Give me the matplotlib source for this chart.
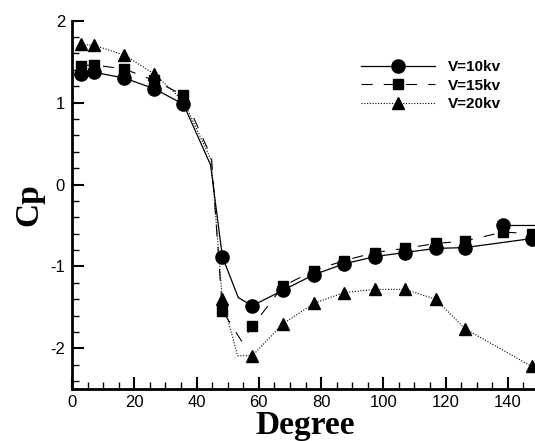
import numpy as np
import matplotlib
matplotlib.use('Agg')
import matplotlib.pyplot as plt
from matplotlib.ticker import MultipleLocator

plt.rcParams['axes.unicode_minus'] = False
plt.rcParams['font.family'] = 'Liberation Sans'

nan = np.nan

# V=10kv (line vertices; separate short segment near the end)
deg10 = [2.9, 7.1, 16.8, 26.4, 35.8, 44.5, 48.3, 53.4, 57.9, 67.8, 77.7, 87.3,
         97.3, 106.9, 116.8, 126.2, 147.6, nan, 138.5, 155.0]
cp10 = [1.35, 1.37, 1.30, 1.17, 0.98, 0.24, -0.88, -1.38, -1.48, -1.29, -1.10, -0.97,
        -0.88, -0.83, -0.78, -0.77, -0.66, nan, -0.50, -0.50]
mark10 = [0, 1, 2, 3, 4, 6, 8, 9, 10, 11, 12, 13, 14, 15, 16, 18]

# V=15kv
deg15 = [2.9, 7.1, 16.8, 26.4, 35.8, 44.8, 48.3, 54.6, 57.9, 67.8, 77.7, 87.3,
         97.3, 106.9, 116.8, 126.2, 138.5, 147.6, 155.0]
cp15 = [1.45, 1.46, 1.41, 1.27, 1.09, 0.33, -1.54, -1.92, -1.73, -1.24, -1.05, -0.93,
        -0.83, -0.78, -0.72, -0.69, -0.58, -0.60, -0.60]
mark15 = [0, 1, 2, 3, 4, 6, 8, 9, 10, 11, 12, 13, 14, 15, 16, 17]

# V=20kv
deg20 = [2.9, 7.1, 16.8, 26.4, 35.8, 44.7, 48.3, 53.2, 57.9, 67.8, 77.7, 87.3,
         97.3, 106.9, 116.8, 126.2, 147.6]
cp20 = [1.71, 1.70, 1.58, 1.35, 1.02, 0.30, -1.40, -2.09, -2.09, -1.70, -1.45, -1.32,
        -1.28, -1.28, -1.40, -1.76, -2.22]
mark20 = [0, 1, 2, 3, 4, 6, 8, 9, 10, 11, 12, 13, 14, 15, 16]

fig = plt.figure(figsize=(5.35, 4.41), dpi=100)
ax = fig.add_axes([72/535, (441-389.3)/441, 467/535, (389.3-20.7)/441])

ax.plot(deg20, cp20, color='black', lw=0.8, linestyle=(0, (1, 1.5)),
        marker='^', ms=8, markevery=mark20, label='V=20kv')
ax.plot(deg15, cp15, color='black', lw=0.8, linestyle=(0, (10, 10)),
        marker='s', ms=7, markevery=mark15, label='V=15kv')
ax.plot(deg10, cp10, color='black', lw=0.9, linestyle='-',
        marker='o', ms=9.5, markevery=mark10, label='V=10kv')

ax.set_xlim(0, 150)
ax.set_ylim(-2.5, 2)
ax.xaxis.set_major_locator(MultipleLocator(20))
ax.xaxis.set_minor_locator(MultipleLocator(5))
ax.yaxis.set_major_locator(MultipleLocator(1))
ax.yaxis.set_minor_locator(MultipleLocator(0.2))
ax.tick_params(which='both', direction='in', labelsize=12, width=1.5)
ax.tick_params(which='major', length=8.5)
ax.tick_params(which='minor', length=4.8, width=1)
ax.tick_params(axis='y', pad=5)
ax.tick_params(axis='x', pad=4)

for s in ['top', 'right']:
    ax.spines[s].set_visible(False)
for s in ['left', 'bottom']:
    ax.spines[s].set_linewidth(2)

ax.set_xlabel('Degree', family='Liberation Serif', fontweight='bold', fontsize=24, labelpad=0)
ax.set_ylabel('Cp', family='Liberation Serif', fontweight='bold', fontsize=24, labelpad=4)

h, l = ax.get_legend_handles_labels()
ax.legend(h[::-1], l[::-1], loc='upper left', bbox_to_anchor=(0.618, 0.893),
          frameon=False, borderpad=0, borderaxespad=0, handlelength=4.85,
          handletextpad=0.85, labelspacing=0.3,
          prop={'family': 'Liberation Sans', 'weight': 'bold', 'size': 11})

fig.savefig('out.png', dpi=100)
